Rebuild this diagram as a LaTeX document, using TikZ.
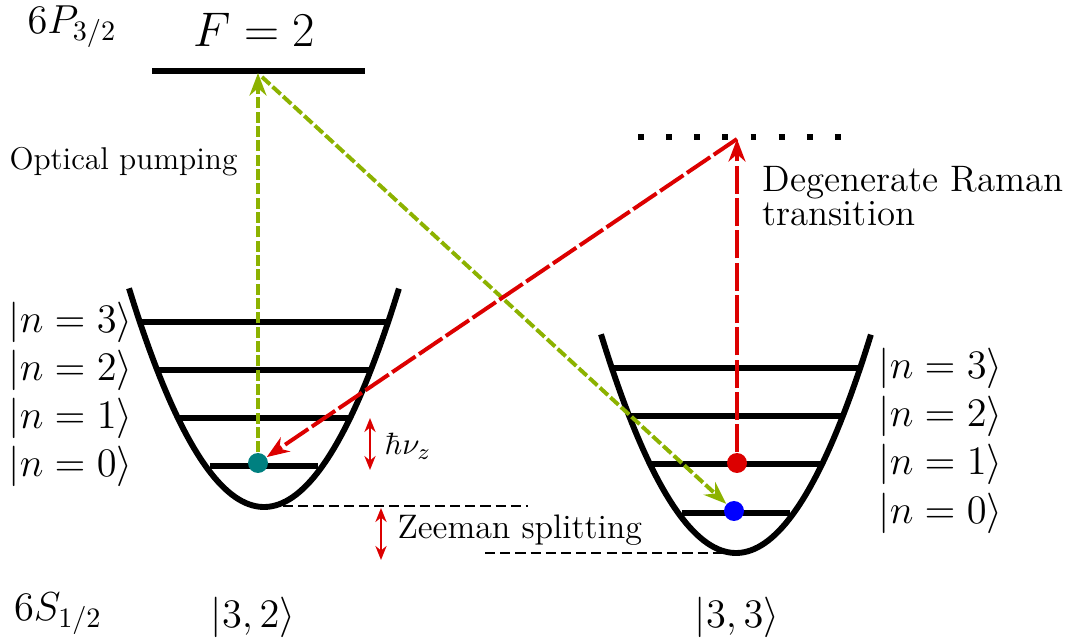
\documentclass[tikz,border=0pt]{standalone}
\usetikzlibrary{arrows.meta}
\definecolor{pumpgreen}{RGB}{140,178,0}
\definecolor{ramanred}{RGB}{220,0,0}
\definecolor{dotteal}{RGB}{0,128,128}
\begin{document}
\begin{tikzpicture}[x=0.0125cm,y=-0.0125cm,
  level/.style={line width=1.8pt},
  trap/.style={line width=2.1pt},
  pump/.style={pumpgreen,line width=1.4pt,dash pattern=on 3.9pt off 1.2pt,-{Stealth[length=8pt,width=6pt]}},
  raman/.style={ramanred,line width=1.4pt,dash pattern=on 10pt off 1.5pt,-{Stealth[length=8pt,width=6pt]}},
  zline/.style={line width=1.05pt,dash pattern=on 3.6pt off 1.8pt},
  gap/.style={ramanred,line width=0.7pt,{Stealth[length=5pt,width=4pt]}-{Stealth[length=5pt,width=4pt]}},
  atom/.style={circle,inner sep=0pt,minimum size=0.25cm},
  ket/.style={font=\fontsize{13.5}{16}\selectfont,inner sep=0pt},
  lbl/.style={inner sep=0pt}]
\useasboundingbox (0,0) rectangle (1072,643);

% excited level
\coordinate (exL) at (152,71);
\coordinate (exR) at (365,71);
\draw[line width=2.1pt] (exL) -- (exR);
\coordinate (top) at (258,73);
\coordinate (topd) at (262,77);
\node[lbl,font=\fontsize{16.5}{20}\selectfont] (F) at (254,30) {$F=2$};
\node[lbl,font=\fontsize{14.5}{18}\selectfont] (P) at (72,27) {$6P_{3/2}$};

% virtual level
\coordinate (vL) at (638,137);
\coordinate (vR) at (842,137);
\draw[line width=2.1pt,dash pattern=on 2.1pt off 7.9pt] (vL) -- (vR);
\coordinate (virt) at (737,139);

% left trap
\draw[trap] plot[domain=-1.35:1.35,samples=80] ({264+100*\x},{507-120*\x*\x});
\draw[level] (140,322) -- (388,322);
\draw[level] (157,370) -- (371,370);
\draw[level] (178,418) -- (350,418);
\draw[level] (210,466) -- (318,466);

% right trap
\draw[trap] plot[domain=-1.35:1.35,samples=80] ({736+100*\x},{553-120*\x*\x});
\draw[level] (612,368) -- (860,368);
\draw[level] (629,416) -- (843,416);
\draw[level] (650,464) -- (822,464);
\draw[level] (682,513) -- (790,513);

% kets
\node[ket,anchor=west] (l3) at (8,322) {$|n=3\rangle$};
\node[ket,anchor=west] (l2) at (8,370) {$|n=2\rangle$};
\node[ket,anchor=west] (l1) at (8,418) {$|n=1\rangle$};
\node[ket,anchor=west] (l0) at (8,466) {$|n=0\rangle$};
\node[ket,anchor=west] (r3) at (878,368) {$|n=3\rangle$};
\node[ket,anchor=west] (r2) at (878,416) {$|n=2\rangle$};
\node[ket,anchor=west] (r1) at (878,464) {$|n=1\rangle$};
\node[ket,anchor=west] (r0) at (878,513) {$|n=0\rangle$};

% Zeeman
\coordinate (z1a) at (283,506);
\coordinate (z1b) at (528,506);
\coordinate (z2a) at (485,553);
\coordinate (z2b) at (735,553);
\draw[zline] (z1a) -- (z1b);
\draw[zline] (z2a) -- (z2b);
\coordinate (zga) at (381,508);
\coordinate (zgb) at (381,560);
\draw[gap] (zga) -- (zgb);
\node[lbl,anchor=west,font=\fontsize{12.1}{14}\selectfont] (zs) at (397,530) {Zeeman splitting};

% trap frequency
\coordinate (ha) at (370,418);
\coordinate (hb) at (370,470);
\draw[gap] (ha) -- (hb);
\node[lbl,anchor=west,font=\fontsize{11}{13}\selectfont] (hnu) at (384,446) {$\hbar\nu_z$};

% atoms
\node[atom] (teal) at (258,463) {};
\node[atom] (red) at (737,463) {};
\node[atom] (blue) at (734,511) {};

% transitions
\draw[pump] (teal) -- (top);
\draw[pump] (topd) -- (blue);
\draw[raman] (red) -- (virt);
\draw[raman] (virt) -- (teal);

\fill[dotteal] (teal) circle[radius=10];
\fill[ramanred] (red) circle[radius=10];
\fill[blue] (blue) circle[radius=10];

% labels
\node[lbl,anchor=west,font=\fontsize{11.2}{13}\selectfont] (op) at (9,162) {Optical pumping};
\node[lbl,anchor=north west,align=left,font=\fontsize{13.1}{12.1}\selectfont] (dr) at (762,166) {Degenerate Raman\\transition};
\node[lbl,font=\fontsize{13.5}{16}\selectfont] (k32) at (253,617) {$|3,2\rangle$};
\node[lbl,font=\fontsize{13.5}{16}\selectfont] (k33) at (737,617) {$|3,3\rangle$};
\node[lbl,font=\fontsize{14.5}{18}\selectfont] (S) at (58,614) {$6S_{1/2}$};
\end{tikzpicture}
\end{document}
